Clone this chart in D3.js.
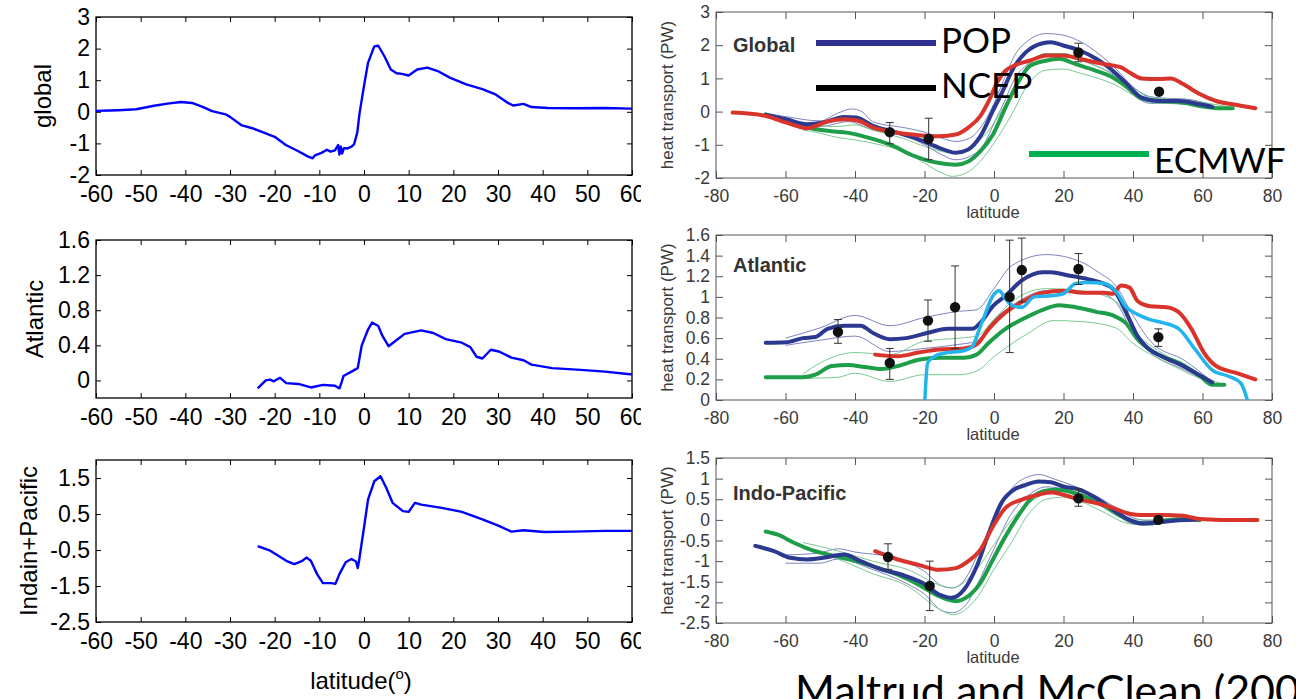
<!DOCTYPE html>
<html>
<head>
<meta charset="utf-8">
<script src="https://cdn.jsdelivr.net/npm/d3@7"></script>
<style>
  body { margin: 0; background: #fff; }
  svg { display: block; }
</style>
</head>
<body>
<svg id="fig" width="1296" height="699"></svg>
<script>
// ---- left column: model heat transport, [latitude, PW] ----
const leftGlobal = [[-60,0.03],[-57,0.04],[-55,0.05],[-51,0.08],[-47,0.19],[-44,0.26],[-41,0.31],[-38.5,0.28],[-36,0.15],[-34,0.02],[-31,-0.08],[-30,-0.16],[-27.5,-0.42],[-25,-0.52],[-23,-0.63],[-20,-0.79],[-17.5,-1.05],[-14.7,-1.25],[-12.5,-1.42],[-11.5,-1.47],[-11,-1.38],[-9.5,-1.3],[-8.3,-1.2],[-7.5,-1.26],[-6.5,-1.22],[-5.8,-1.05],[-5.5,-1.35],[-5.2,-1.1],[-4.9,-1.32],[-4.5,-1.15],[-3.7,-1.16],[-2.8,-1.1],[-2.2,-1.02],[-1.5,-0.65],[-1,-0.05],[0,0.82],[0.9,1.55],[2.3,2.07],[3.2,2.09],[4.6,1.75],[6,1.34],[7.3,1.22],[8.5,1.2],[10,1.15],[11.9,1.34],[14.2,1.4],[16.5,1.29],[19.2,1.08],[22.9,0.87],[26.5,0.72],[29.3,0.56],[32,0.3],[33.4,0.2],[35.7,0.25],[37.5,0.15],[41.2,0.12],[46.7,0.11],[54,0.12],[59.5,0.1],[60,0.1]]
const leftAtlantic = [[-23.8,-0.09],[-22,0.0],[-21,0.01],[-20.2,-0.01],[-18.8,0.03],[-17.4,-0.03],[-14.7,-0.04],[-11.9,-0.08],[-9.2,-0.05],[-6.5,-0.06],[-5.5,-0.09],[-5,-0.02],[-4.6,0.05],[-2.8,0.1],[-1.4,0.14],[-0.5,0.4],[0.9,0.58],[1.8,0.66],[3.2,0.62],[4.1,0.51],[5.5,0.39],[6.8,0.44],[9.1,0.53],[12.8,0.57],[15.5,0.54],[18.3,0.47],[21.9,0.43],[23.8,0.38],[25.2,0.27],[26.5,0.25],[28.4,0.35],[30.2,0.33],[33,0.26],[35.7,0.23],[37.5,0.18],[42.1,0.14],[48.5,0.12],[54,0.1],[59.5,0.07],[60,0.07]]
const leftIndoPac = [[-23.8,-0.39],[-21,-0.52],[-17.4,-0.8],[-15.6,-0.89],[-13.8,-0.8],[-12.9,-0.71],[-11.9,-0.8],[-10.5,-1.17],[-9.2,-1.42],[-7.3,-1.42],[-6.4,-1.44],[-5.5,-1.17],[-4.1,-0.84],[-2.8,-0.75],[-1.8,-0.82],[-1.4,-1.0],[-1.1,-0.8],[-0.9,-0.62],[0,0.12],[0.9,0.9],[2.3,1.41],[3.7,1.55],[5,1.22],[6.4,0.81],[8.7,0.58],[10,0.56],[11.4,0.81],[12.8,0.76],[17.4,0.67],[21.9,0.56],[26.5,0.35],[30.2,0.17],[33,0.01],[35.7,0.05],[40.3,0.0],[46.7,0.01],[54,0.03],[60,0.03]]

const leftXTicks = [-60,-50,-40,-30,-20,-10,0,10,20,30,40,50,60]
const leftGlobalYTicks = [-2,-1,0,1,2,3]
const leftAtlanticYTicks = [0,0.4,0.8,1.2,1.6]
const leftIndoPacYTicks = [-2.5,-1.5,-0.5,0.5,1.5]

// ---- right column: Maltrud and McClean figure ----
const gloPOP = [[-65.7,-0.1],[-59.8,-0.23],[-53.8,-0.38],[-49.1,-0.33],[-43.1,-0.16],[-39.6,-0.18],[-34.8,-0.43],[-27.7,-0.64],[-21.7,-0.84],[-15.8,-1.09],[-11,-1.24],[-7.4,-1.14],[-3.9,-0.74],[-0.3,0.03],[2.1,0.53],[5.7,1.33],[9.2,1.79],[14,2.06],[16.4,2.09],[19.9,1.99],[24.7,1.84],[29.4,1.59],[33,1.33],[37.8,0.88],[42.5,0.42],[47.3,0.32],[53.2,0.32],[59.2,0.22],[62.8,0.14]]
const gloPOPhi = [[-65.7,-0.05],[-60,-0.15],[-50,-0.28],[-45,-0.05],[-41,0.08],[-38,0.0],[-35,-0.3],[-25,-0.5],[-20,-0.62],[-15,-0.8],[-11,-0.9],[-7,-0.8],[-3,-0.35],[0,0.25],[3,1.0],[6,1.7],[10,2.15],[15,2.35],[20,2.3],[25,2.1],[30,1.75],[35,1.3],[40,0.75],[45,0.45],[50,0.4],[55,0.38],[62.8,0.2]]
const gloPOPlo = [[-65.7,-0.12],[-60,-0.3],[-50,-0.45],[-42,-0.3],[-35,-0.55],[-25,-0.75],[-20,-1.0],[-15,-1.3],[-11,-1.45],[-7,-1.35],[-3,-1.0],[0,-0.35],[3,0.3],[6,1.0],[10,1.45],[15,1.75],[20,1.75],[25,1.55],[30,1.35],[35,1.05],[40,0.5],[45,0.25],[50,0.25],[55,0.22],[62.8,0.1]]
const gloECMWF = [[-65.7,-0.08],[-59.8,-0.3],[-53.8,-0.48],[-47.9,-0.58],[-41.9,-0.64],[-36,-0.79],[-30,-0.99],[-22.9,-1.34],[-15.8,-1.55],[-11,-1.6],[-7.4,-1.5],[-3.9,-1.19],[-0.3,-0.69],[3.3,0.12],[6.9,0.88],[10.4,1.38],[15.2,1.54],[18.7,1.59],[23.5,1.43],[29.4,1.23],[34.2,1.03],[39,0.68],[42.5,0.4],[47.3,0.32],[53.2,0.29],[59.2,0.17],[65.1,0.1],[68.7,0.1]]
const gloECMWFhi = [[-65,-0.08],[-55,-0.38],[-45,-0.45],[-40,-0.4],[-35,-0.55],[-25,-0.85],[-20,-1.05],[-15,-1.2],[-12,-1.25],[-8,-1.15],[-4,-0.85],[0,-0.35],[5,0.55],[10,1.4],[15,1.75],[20,1.75],[25,1.55],[30,1.35],[35,1.1],[40,0.72],[45,0.42],[55,0.35],[68,0.13]]
const gloECMWFlo = [[-55,-0.55],[-50,-0.65],[-45,-0.78],[-40,-0.85],[-35,-0.95],[-25,-1.25],[-20,-1.55],[-15,-1.85],[-12,-1.95],[-8,-1.85],[-4,-1.5],[0,-0.95],[5,-0.1],[10,0.85],[15,1.25],[20,1.28],[25,1.15],[30,1.0],[35,0.8],[40,0.5],[45,0.28],[55,0.22],[68,0.1]]
const gloRed = [[-75.2,-0.03],[-65.7,-0.13],[-59.8,-0.33],[-53.8,-0.5],[-47.9,-0.3],[-43.1,-0.23],[-39.6,-0.26],[-34.8,-0.48],[-27.7,-0.64],[-21.7,-0.71],[-15.8,-0.74],[-11,-0.69],[-7.4,-0.48],[-3.9,-0.13],[-1.5,0.32],[0.9,0.88],[3.3,1.23],[5.7,1.38],[10.4,1.54],[15.2,1.69],[19.9,1.69],[24.7,1.59],[29.4,1.48],[33,1.41],[36.6,1.33],[39,1.18],[42.5,1.0],[47.3,0.98],[50.9,1.0],[54.4,0.83],[59.2,0.53],[63.9,0.32],[68.7,0.22],[75.2,0.1]]
const gloObs = [[-30,-0.62,-0.33,-0.97],[-18.8,-0.82,-0.2,-1.45],[24.3,1.78,2.06,1.5],[47.5,0.6,0.64,0.56]]

const atlPOP = [[-65.7,0.555],[-59.8,0.56],[-55,0.6],[-51.4,0.61],[-47.9,0.69],[-43.1,0.72],[-38.4,0.72],[-34.8,0.65],[-30,0.59],[-25.3,0.6],[-18.1,0.66],[-13.4,0.69],[-6.2,0.69],[-3.9,0.75],[-0.3,0.91],[3.3,1.01],[8,1.16],[14,1.24],[16.4,1.24],[21.1,1.21],[25.9,1.18],[30.6,1.14],[34.2,1.08],[36.6,0.95],[39,0.78],[41.3,0.62],[43.7,0.52],[48.5,0.42],[54.4,0.33],[59.2,0.24],[62.8,0.17]]
const atlPOPhi = [[-60,0.6],[-50,0.7],[-40,0.82],[-30,0.72],[-20,0.8],[-10,0.86],[-5,0.875],[0,1.08],[5,1.3],[15,1.41],[25,1.34],[30,1.24],[35,1.11],[40,0.82],[45,0.57],[55,0.38],[62,0.2]]
const atlPOPlo = [[-60,0.53],[-50,0.58],[-40,0.62],[-30,0.47],[-20,0.5],[-10,0.54],[-5,0.57],[0,0.78],[5,0.91],[15,1.06],[25,1.04],[30,1.04],[35,0.95],[40,0.65],[45,0.46],[55,0.29],[62,0.17]]
const atlECMWF = [[-65.7,0.22],[-55,0.22],[-51.4,0.245],[-46.7,0.33],[-41.9,0.34],[-37.2,0.32],[-32.4,0.3],[-27.7,0.33],[-21.7,0.39],[-15.8,0.41],[-8.6,0.41],[-5,0.44],[-1.5,0.555],[3.3,0.69],[8,0.78],[14,0.875],[18.7,0.92],[23.5,0.9],[29.4,0.855],[34.2,0.82],[37.8,0.75],[41.3,0.59],[46.1,0.46],[53.2,0.36],[59.2,0.235],[62.8,0.147],[66.3,0.147]]
const atlECMWFhi = [[-55,0.25],[-50,0.36],[-40,0.46],[-30,0.44],[-20,0.57],[-10,0.6],[-5,0.62],[0,0.78],[5,0.95],[15,1.08],[25,1.06],[35,0.96],[40,0.69],[50,0.42],[60,0.23],[66,0.15]]
const atlECMWFlo = [[-55,0.21],[-45,0.22],[-40,0.26],[-30,0.18],[-20,0.245],[-10,0.245],[-5,0.28],[0,0.42],[10,0.65],[17,0.77],[25,0.76],[35,0.7],[40,0.55],[50,0.36],[60,0.2],[66,0.14]]
const atlRed = [[-34.2,0.44],[-27.7,0.425],[-21.7,0.46],[-15.8,0.49],[-8.6,0.5],[-5,0.54],[-1.5,0.69],[3.3,0.85],[8,0.95],[14,1.04],[19.9,1.06],[25.9,1.04],[31.8,1.04],[34.2,1.03],[36.6,1.11],[39,1.09],[41.3,0.96],[44.9,0.91],[49.7,0.9],[53.2,0.85],[56.8,0.69],[60.4,0.46],[63.9,0.33],[69.9,0.26],[75.2,0.2]]
const atlCyan = [[-19.9,0.0],[-19.1,0.36],[-17,0.425],[-13.4,0.46],[-9.8,0.47],[-6.2,0.52],[-4.4,0.67],[-2.7,0.82],[-0.3,1.01],[1.5,1.06],[3.3,0.98],[5.7,0.91],[8,0.9],[11.6,1.0],[16.4,1.01],[19.9,1.03],[23.5,1.13],[27.1,1.14],[31.8,1.13],[35.4,1.04],[37.8,0.91],[41.3,0.83],[44.9,0.78],[48.5,0.75],[53.2,0.69],[57.9,0.49],[62.8,0.29],[67.5,0.23],[71.1,0.16],[72.9,0.0]]
const atlObs = [[-44.9,0.66,0.78,0.55],[-30,0.36,0.5,0.2],[-19,0.77,0.97,0.57],[-11.2,0.9,1.3,0.5],[4.5,1.0,1.55,0.46],[8,1.26,1.57,0.95],[24.3,1.27,1.42,1.12],[47.3,0.61,0.69,0.52]]

const ipPOP = [[-68.7,-0.63],[-63.3,-0.76],[-58.6,-0.92],[-53.8,-0.96],[-49.1,-0.92],[-43.1,-0.84],[-38.4,-1.0],[-32.4,-1.2],[-26.5,-1.33],[-20.5,-1.53],[-15.8,-1.81],[-12.2,-1.89],[-8.6,-1.69],[-5,-1.13],[-1.5,-0.32],[2.1,0.41],[5.7,0.73],[9.2,0.85],[12.8,0.93],[16.4,0.91],[19.9,0.81],[24.7,0.73],[29.4,0.53],[34.2,0.25],[39,0.0],[42.5,-0.09],[47.3,-0.06],[53.2,-0.01],[58,0.0]]
const ipPOPhi = [[-60,-0.85],[-50,-0.8],[-45,-0.7],[-40,-0.78],[-30,-0.9],[-20,-1.25],[-15,-1.6],[-12,-1.65],[-8,-1.4],[-5,-0.9],[0,-0.05],[5,0.75],[10,1.05],[13,1.1],[17,1.0],[25,0.75],[30,0.55],[35,0.3],[40,0.05],[45,-0.02],[50,0.02],[58,0.02]]
const ipPOPlo = [[-60,-1.05],[-50,-1.05],[-45,-0.95],[-35,-1.2],[-25,-1.55],[-20,-1.8],[-15,-2.2],[-12,-2.25],[-8,-2.05],[-5,-1.6],[0,-0.7],[5,0.15],[10,0.6],[15,0.8],[20,0.75],[25,0.6],[30,0.45],[35,0.15],[40,-0.1],[45,-0.12],[50,-0.05],[58,0.0]]
const ipECMWF = [[-65.7,-0.28],[-62.2,-0.36],[-57.4,-0.56],[-51.4,-0.76],[-45.5,-0.88],[-39.6,-1.0],[-33.6,-1.16],[-27.7,-1.33],[-21.7,-1.57],[-15.8,-1.85],[-11,-1.97],[-7.4,-1.85],[-3.9,-1.53],[-0.3,-0.96],[3.3,-0.4],[6.9,0.09],[10.4,0.49],[14,0.69],[17.6,0.73],[22.4,0.67],[27.1,0.53],[31.8,0.33],[36.6,0.09],[41.3,-0.07],[44.9,-0.09],[49.7,-0.01],[55.6,0.02],[59.2,-0.01]]
const ipECMWFhi = [[-55,-0.55],[-45,-0.75],[-35,-1.0],[-25,-1.2],[-15,-1.6],[-12,-1.65],[-5,-1.2],[0,-0.6],[5,0.0],[10,0.4],[15,0.65],[20,0.75],[25,0.7],[30,0.5],[40,0.0],[50,0.0],[58,0.0]]
const ipECMWFlo = [[-55,-0.7],[-45,-0.95],[-35,-1.3],[-25,-1.6],[-15,-2.2],[-12,-2.3],[-5,-1.9],[0,-1.2],[5,-0.55],[10,0.15],[15,0.5],[20,0.55],[25,0.45],[30,0.25],[40,-0.1],[45,-0.1],[50,-0.03],[58,0.0]]
const ipRed = [[-34.2,-0.76],[-27.7,-0.96],[-21.7,-1.09],[-15.8,-1.21],[-11,-1.17],[-7.4,-1.0],[-3.9,-0.72],[-0.3,-0.16],[3.3,0.29],[8,0.49],[12.8,0.61],[16.4,0.67],[19.9,0.61],[24.7,0.49],[29.4,0.41],[34.2,0.29],[39,0.15],[42.5,0.12],[48.5,0.12],[54.4,0.1],[59.2,0.02],[65.1,0.0],[75.8,0.0]]
const ipObs = [[-30.5,-0.9,-0.58,-1.2],[-18.5,-1.6,-1.0,-2.2],[24.3,0.52,0.75,0.33],[47.3,0.0,0.05,-0.05]]

const rightXTicks = [-80,-60,-40,-20,0,20,40,60,80]
const gloYTicks = [-2,-1,0,1,2,3]
const atlYTicks = [0,0.2,0.4,0.6,0.8,1,1.2,1.4,1.6]
const ipYTicks = [-2.5,-2,-1.5,-1,-0.5,0,0.5,1,1.5]

const legendNames = ["POP", "NCEP", "ECMWF"]

// ---- drawing ----
const svg = d3.select("#fig")
const defs = svg.append("defs")
defs.append("clipPath").attr("id", "leftclip")
    .append("rect").attr("x", 0).attr("y", 0).attr("width", 641).attr("height", 699)

const leftStyle = { font: "Liberation Sans, Arial, sans-serif", size: 23, color: "#000", frame: "#000", tick: 5, padX: 11, padY: 6, frameW: 1.3 }
const rightStyle = { font: "Liberation Sans, Arial, sans-serif", size: 17.5, color: "#3a3a3a", frame: "#555", tick: 7, padX: 12, padY: 6, frameW: 1 }

function drawPanel(root, p, st) {
    const g = root.append("g")
    const x = d3.scaleLinear().domain(p.xDomain).range([p.left, p.right])
    const y = d3.scaleLinear().domain(p.yDomain).range([p.bottom, p.top])

    const styleAxis = a => {
        a.select(".domain").remove()
        a.attr("font-family", st.font).attr("font-size", st.size)
        a.selectAll("line").attr("stroke", st.frame)
        a.selectAll("text").attr("fill", st.color)
    }
    g.append("g").attr("transform", `translate(0,${p.bottom})`)
        .call(d3.axisBottom(x).tickValues(p.xTicks).tickFormat(d => String(d)).tickSize(-st.tick).tickPadding(st.padX))
        .call(styleAxis)
    g.append("g").attr("transform", `translate(0,${p.top})`)
        .call(d3.axisTop(x).tickValues(p.xTicks).tickFormat("").tickSize(-st.tick))
        .call(styleAxis)
    g.append("g").attr("transform", `translate(${p.left},0)`)
        .call(d3.axisLeft(y).tickValues(p.yTicks).tickFormat(d => String(d)).tickSize(-st.tick).tickPadding(st.padY))
        .call(styleAxis)
    g.append("g").attr("transform", `translate(${p.right},0)`)
        .call(d3.axisRight(y).tickValues(p.yTicks).tickFormat("").tickSize(-st.tick))
        .call(styleAxis)

    g.append("rect")
        .attr("x", p.left).attr("y", p.top)
        .attr("width", p.right - p.left).attr("height", p.bottom - p.top)
        .attr("fill", "none").attr("stroke", st.frame).attr("stroke-width", st.frameW)

    const clipId = "c" + Math.round(p.top)
    defs.append("clipPath").attr("id", clipId)
        .append("rect").attr("x", p.left).attr("y", p.top)
        .attr("width", p.right - p.left).attr("height", p.bottom - p.top)
    const plot = g.append("g").attr("clip-path", `url(#${clipId})`)
    return { g, plot, x, y }
}

// left column
const leftRoot = svg.append("g").attr("clip-path", "url(#leftclip)")
const leftPanels = [
    { data: leftGlobal, yDomain: [-2, 3], yTicks: leftGlobalYTicks, top: 17, bottom: 175, label: "global", lx: 51 },
    { data: leftAtlantic, yDomain: [-0.2, 1.6], yTicks: leftAtlanticYTicks, top: 240, bottom: 398, label: "Atlantic", lx: 43 },
    { data: leftIndoPac, yDomain: [-2.5, 2], yTicks: leftIndoPacYTicks, top: 460, bottom: 622, label: "Indain+Pacific", lx: 37 }
]
leftPanels.forEach(lp => {
    const p = drawPanel(leftRoot, { xDomain: [-60, 60], left: 96, right: 632, top: lp.top, bottom: lp.bottom, xTicks: leftXTicks, yTicks: lp.yTicks, yDomain: lp.yDomain }, leftStyle)
    p.plot.append("path")
        .datum(lp.data)
        .attr("d", d3.line().x(d => p.x(d[0])).y(d => p.y(d[1])))
        .attr("fill", "none").attr("stroke", "#0000ff").attr("stroke-width", 2.4)
        .attr("stroke-linejoin", "round")
    leftRoot.append("text")
        .attr("transform", `translate(${lp.lx},${(lp.top + lp.bottom) / 2}) rotate(-90)`)
        .attr("text-anchor", "middle")
        .attr("font-family", leftStyle.font).attr("font-size", 24)
        .text(lp.label)
})
const latLabel = leftRoot.append("text")
    .attr("x", 361).attr("y", 689).attr("text-anchor", "middle")
    .attr("font-family", leftStyle.font).attr("font-size", 24)
latLabel.append("tspan").text("latitude(")
latLabel.append("tspan").attr("dy", -10).attr("font-size", 15).text("o")
latLabel.append("tspan").attr("dy", 10).text(")")

// right column
const colors = { pop: "#2b3990", popThin: "#7076b8", ecmwf: "#1f9e4a", ecmwfThin: "#6cc486", red: "#d8342c", cyan: "#22b4ec" }
const rightPanels = [
    { name: "Global", yDomain: [-2, 3], yTicks: gloYTicks, top: 12, bottom: 178, nameY: 52,
      thin: [[gloPOPhi, colors.popThin], [gloPOPlo, colors.popThin], [gloECMWFhi, colors.ecmwfThin], [gloECMWFlo, colors.ecmwfThin]],
      thick: [[gloECMWF, colors.ecmwf, 4], [gloPOP, colors.pop, 4], [gloRed, colors.red, 4]], obs: gloObs },
    { name: "Atlantic", yDomain: [0, 1.6], yTicks: atlYTicks, top: 235, bottom: 400, nameY: 272,
      thin: [[atlPOPhi, colors.popThin], [atlPOPlo, colors.popThin], [atlECMWFhi, colors.ecmwfThin], [atlECMWFlo, colors.ecmwfThin]],
      thick: [[atlECMWF, colors.ecmwf, 4], [atlPOP, colors.pop, 4], [atlRed, colors.red, 4], [atlCyan, colors.cyan, 3.5]], obs: atlObs },
    { name: "Indo-Pacific", yDomain: [-2.5, 1.5], yTicks: ipYTicks, top: 458, bottom: 623, nameY: 500,
      thin: [[ipPOPhi, colors.popThin], [ipPOPlo, colors.popThin], [ipECMWFhi, colors.ecmwfThin], [ipECMWFlo, colors.ecmwfThin]],
      thick: [[ipECMWF, colors.ecmwf, 4], [ipPOP, colors.pop, 4], [ipRed, colors.red, 4]], obs: ipObs }
]
rightPanels.forEach(rp => {
    const p = drawPanel(svg, { xDomain: [-80, 80], left: 716, right: 1272, top: rp.top, bottom: rp.bottom, xTicks: rightXTicks, yTicks: rp.yTicks, yDomain: rp.yDomain }, rightStyle)
    const line = d3.line().x(d => p.x(d[0])).y(d => p.y(d[1])).curve(d3.curveMonotoneX)
    rp.thin.forEach(([data, c]) => {
        p.plot.append("path").datum(data).attr("d", line)
            .attr("fill", "none").attr("stroke", c).attr("stroke-width", 1).attr("opacity", 0.9)
    })
    rp.thick.forEach(([data, c, w]) => {
        p.plot.append("path").datum(data).attr("d", line)
            .attr("fill", "none").attr("stroke", c).attr("stroke-width", w)
            .attr("stroke-linecap", "round").attr("stroke-linejoin", "round")
    })
    const obs = p.plot.selectAll(".obs").data(rp.obs).join("g").attr("class", "obs")
    obs.append("line")
        .attr("x1", d => p.x(d[0])).attr("x2", d => p.x(d[0]))
        .attr("y1", d => p.y(d[2])).attr("y2", d => p.y(d[3]))
        .attr("stroke", "#333").attr("stroke-width", 1)
    obs.selectAll(".cap").data(d => [[d[0], d[2]], [d[0], d[3]]]).join("line")
        .attr("x1", d => p.x(d[0]) - 4).attr("x2", d => p.x(d[0]) + 4)
        .attr("y1", d => p.y(d[1])).attr("y2", d => p.y(d[1]))
        .attr("stroke", "#333").attr("stroke-width", 1)
    obs.append("circle")
        .attr("cx", d => p.x(d[0])).attr("cy", d => p.y(d[1])).attr("r", 5.2)
        .attr("fill", "#111")

    svg.append("text").attr("x", 733).attr("y", rp.nameY)
        .attr("font-family", rightStyle.font).attr("font-size", 20).attr("font-weight", "bold")
        .attr("fill", "#333").text(rp.name)
    svg.append("text").attr("x", 993).attr("y", rp.bottom + 40).attr("text-anchor", "middle")
        .attr("font-family", rightStyle.font).attr("font-size", 16.5).attr("fill", "#3a3a3a")
        .text("latitude")
    svg.append("text")
        .attr("transform", `translate(673,${(rp.top + rp.bottom) / 2}) rotate(-90)`)
        .attr("text-anchor", "middle")
        .attr("font-family", rightStyle.font).attr("font-size", 17).attr("fill", "#3a3a3a")
        .text("heat transport (PW)")
})

// overlaid legend
const legend = [
    { name: legendNames[0], color: "#2e3192", x: 816, y: 43, ty: 53 },
    { name: legendNames[1], color: "#000", x: 816, y: 88, ty: 98 },
    { name: legendNames[2], color: "#00b050", x: 1029, y: 154, ty: 173 }
]
legend.forEach(l => {
    svg.append("line").attr("x1", l.x).attr("x2", l.x + 120).attr("y1", l.y).attr("y2", l.y)
        .attr("stroke", l.color).attr("stroke-width", 6)
    svg.append("text").attr("x", l.x + 125).attr("y", l.ty)
        .attr("font-family", "Lato, Open Sans, sans-serif").attr("font-size", 35)
        .attr("fill", "#000").text(l.name)
})

svg.append("text").attr("x", 795).attr("y", 706)
    .attr("font-family", "Lato, Open Sans, sans-serif").attr("font-size", 43)
    .attr("fill", "#000").text("Maltrud and McClean (2005)")
</script>
</body>
</html>
